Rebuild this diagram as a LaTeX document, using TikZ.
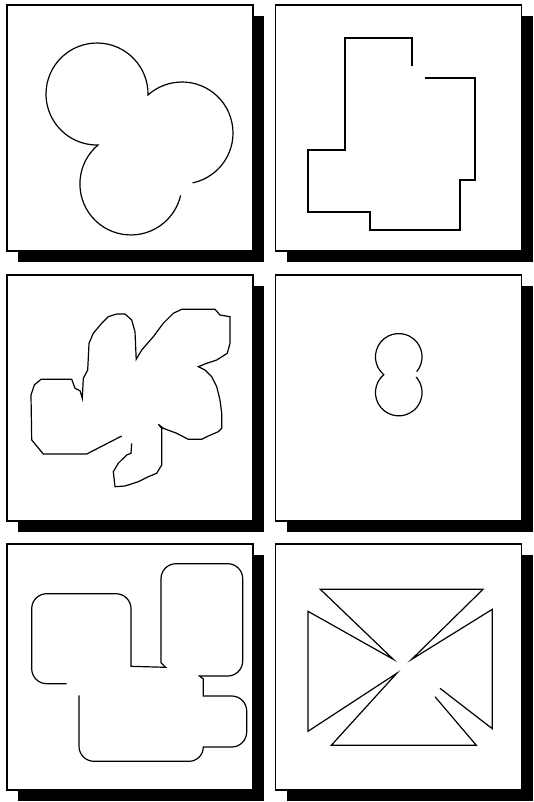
\documentclass[tikz,border=0pt]{standalone}
\usepackage{tikz}
\usetikzlibrary{positioning}
\definecolor{InkBlack}{HTML}{000000}
\tikzset{
  panel/.style={draw=InkBlack, line width=1.1pt, fill=white, minimum width=184.5pt, minimum height=184.5pt, inner sep=0pt},
  panelshade/.style={fill=InkBlack, minimum width=184.5pt, minimum height=184.5pt, inner sep=0pt},
  outline/.style={draw=InkBlack, line width=0.9pt, line join=miter},
  rounded/.style={rounded corners=11.25pt}
}

\begin{document}
\begin{tikzpicture}[x=0.75pt, y=-0.75pt]
\fill[white] (0,0) rectangle (533,802);
\useasboundingbox (0,0) rectangle (533,802);
% shadows
\node[panelshade] at (141,139) {};
\node[panelshade] at (409.5,139) {};
\node[panelshade] at (141,409) {};
\node[panelshade] at (409.5,409) {};
\node[panelshade] at (141,678) {};
\node[panelshade] at (409.5,678) {};
% panels
\node[panel] (p1) at (130,128) {};
\node[panel] (p2) at (398.5,128) {};
\node[panel] (p3) at (130,398) {};
\node[panel] (p4) at (398.5,398) {};
\node[panel] (p5) at (130,667) {};
\node[panel] (p6) at (398.5,667) {};
% three circles
\draw[outline] (192.6,182.9) arc[start angle=78, end angle=-131.8, radius=51]
  arc[start angle=1.1, end angle=-271.1, radius=51]
  arc[start angle=-130.2, end angle=-347, radius=51];
% steps
\draw[outline] (412,66) -- (412,38) -- (345,38) -- (345,150) -- (308,150) -- (308,212)
  -- (370,212) -- (370,230) -- (460,230) -- (460,180) -- (475,180) -- (475,78) -- (425,78);
% blob
\draw[outline] (121.7,436) -- (86.7,454) -- (43.3,454) -- (31.7,440) -- (31,395) -- (34.3,385)
  -- (41,379.3) -- (71.7,379.3) -- (75,388.3) -- (80,390.7) -- (82.3,398.3) -- (83.3,378.3)
  -- (87.7,370) -- (89,343.3) -- (93.3,333.3) -- (101.7,323.3) -- (108.3,316.7) -- (116.7,314)
  -- (125,314) -- (131.7,320) -- (135,331.7) -- (136.2,359.3) -- (141.7,350) -- (153.3,336.7)
  -- (163.3,323.3) -- (173.3,313.3) -- (181.7,309.3) -- (215,309.3) -- (220,315) -- (230,316.7)
  -- (230,343.3) -- (227.3,353.3) -- (216.7,360) -- (206.7,363.3) -- (198.3,366.7) -- (205,370)
  -- (211.7,376.7) -- (216.7,386.7) -- (220,400) -- (221.7,413.3) -- (221.7,428.3) -- (218.3,431.7)
  -- (208.3,436) -- (201.7,439.3) -- (188.3,439.3) -- (176.7,433.3) -- (163.3,428.3) -- (158.3,424.3)
  -- (161.7,428.3) -- (161.7,465) -- (156.7,473.3) -- (148.3,476.7) -- (138.3,481.7) -- (125,486)
  -- (115,486.7) -- (113.3,471.7) -- (118.3,463.3) -- (126.7,455) -- (131,453.3) -- (131.7,443.3);
% figure eight
\draw[outline] (416.7,371.7) arc[start angle=39.6, end angle=-230, radius=23.3]
  arc[start angle=-130, end angle=-401.6, radius=23.3];
% rounded blocks
\draw[outline] (66.7,683.7) [rounded] -- (31.7,683.7) -- (31.7,593.7) -- (131,593.7) [sharp corners]
  -- (131,666.3) -- (165.7,667.3) -- (161,662.7) [rounded] -- (161,563.7) -- (242.7,563.7)
  -- (242.7,676) [sharp corners] -- (199.5,676) -- (203.3,679) -- (203.3,696) [rounded]
  -- (246.7,696) -- (246.7,747) [sharp corners] -- (203.3,747)
  arc[start angle=0, end angle=90, radius=14.3] [rounded] -- (79,761.3) -- (79,695.3);
% triangles
\draw[outline] (440,688.3) -- (492.3,728.7) -- (492.3,609.3) -- (411.7,659.3) -- (483,589.3)
  -- (320.3,589.3) -- (393.3,659.3) -- (308,611.3) -- (308,731.3) -- (396.7,673.3)
  -- (331.3,745.3) -- (476.3,745.3) -- (435,696.7);
\end{tikzpicture}
\end{document}
